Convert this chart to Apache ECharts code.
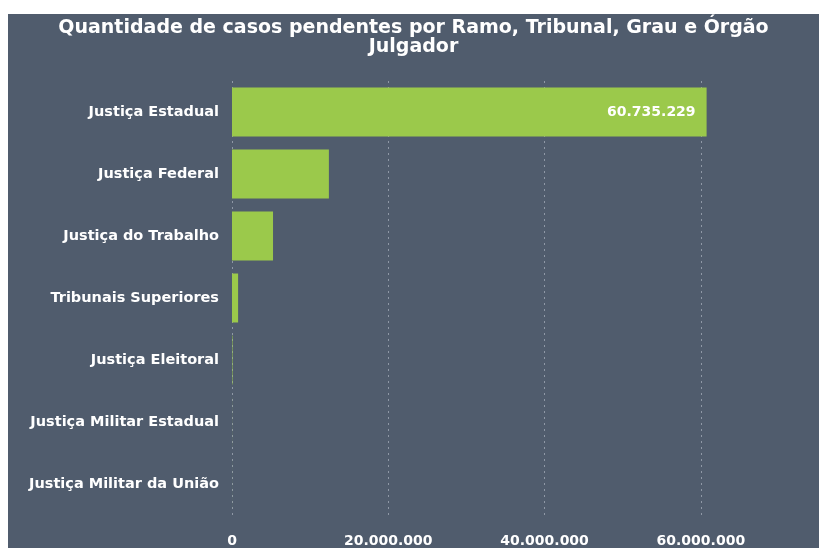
<!DOCTYPE html>
<html>
<head>
<meta charset="utf-8">
<script src="https://cdn.jsdelivr.net/npm/echarts@6/dist/echarts.min.js"></script>
<style>
  html, body { margin: 0; padding: 0; background: #ffffff; }
  #chart { position: absolute; left: 8px; top: 14px; width: 811px; height: 534px; }
</style>
</head>
<body>
<div id="chart"></div>
<script>
// 类别与数值
const categories = [
  'Justiça Estadual',
  'Justiça Federal',
  'Justiça do Trabalho',
  'Tribunais Superiores',
  'Justiça Eleitoral',
  'Justiça Militar Estadual',
  'Justiça Militar da União'
]
const pendingCases = [60735229, 12400000, 5250000, 780000, 60000, 8000, 4000]
const xTicks = [0, 20000000, 40000000, 60000000]

const fontFamily = '"DejaVu Sans", sans-serif'

function formatNumber(v) {
  return String(Math.round(v)).replace(/\B(?=(\d{3})+(?!\d))/g, '.')
}

const chart = echarts.init(document.getElementById('chart'))

chart.setOption({
  backgroundColor: '#505c6d',
  animation: false,
  title: {
    text: 'Quantidade de casos pendentes por Ramo, Tribunal, Grau e Órgão\nJulgador',
    left: 'center',
    top: 0,
    textStyle: {
      color: '#ffffff',
      fontFamily: fontFamily,
      fontWeight: 'bold',
      fontSize: 19,
      lineHeight: 19
    }
  },
  grid: {
    left: 224,
    right: 40,
    top: 67,
    bottom: 33,
    containLabel: false
  },
  xAxis: {
    type: 'value',
    min: 0,
    max: 70000000,
    interval: 20000000,
    axisLine: { show: false },
    axisTick: { show: false },
    axisLabel: {
      color: '#ffffff',
      fontFamily: fontFamily,
      fontWeight: 'bold',
      fontSize: 14,
      margin: 19,
      showMaxLabel: false,
      formatter: (v) => xTicks.includes(v) ? formatNumber(v) : ''
    },
    splitLine: {
      show: true,
      showMaxLine: false,
      lineStyle: { type: [2, 4], color: '#8f98a6', width: 1 }
    }
  },
  yAxis: {
    type: 'category',
    inverse: true,
    data: categories,
    axisLine: { show: false },
    axisTick: { show: false },
    axisLabel: {
      color: '#ffffff',
      fontFamily: fontFamily,
      fontWeight: 'bold',
      fontSize: 14.5,
      margin: 13
    }
  },
  series: [
    {
      type: 'bar',
      barCategoryGap: '21%',
      itemStyle: { color: '#9bc94b' },
      data: pendingCases.map((v, i) => ({
        value: v,
        label: {
          show: i === 0,
          position: 'insideRight',
          distance: 11,
          color: '#ffffff',
          fontFamily: fontFamily,
          fontWeight: 'bold',
          fontSize: 14,
          formatter: (p) => formatNumber(p.value)
        }
      }))
    }
  ]
})
</script>
</body>
</html>
